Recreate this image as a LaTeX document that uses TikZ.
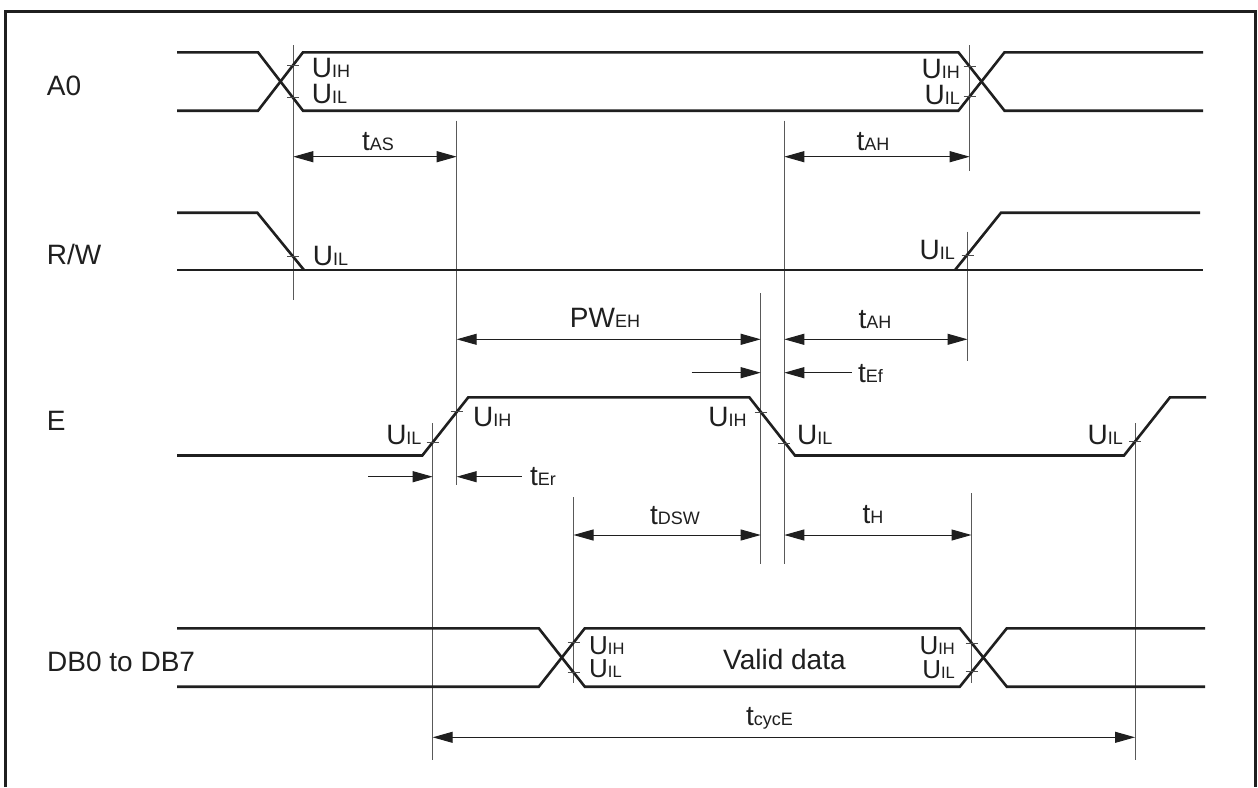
\documentclass[tikz,border=0pt]{standalone}
\usepackage{fontspec}
\setmainfont{Liberation Sans}
\usetikzlibrary{arrows.meta}
\newcommand\subt[1]{{\fontsize{18}{18}\selectfont #1}}
\newcommand\subs[1]{{\fontsize{16.5}{16.5}\selectfont #1}}
\tikzset{
  sig/.style={line width=2.6pt, draw=black!88, line join=miter},
  guide/.style={line width=1pt, draw=black!65},
  tickm/.style={line width=1pt, draw=black!70},
  dimarr/.style={line width=1pt, draw=black!88, {Triangle[length=20pt,width=11pt]}-{Triangle[length=20pt,width=11pt]}},
  onearr/.style={line width=1pt, draw=black!88, -{Triangle[length=20pt,width=11pt]}},
  lbl/.style={inner sep=0pt, text=black!88, font=\fontsize{28}{30}\selectfont},
  lbls/.style={inner sep=0pt, text=black!88, font=\fontsize{26}{28}\selectfont},
  frm/.style={line width=3pt, draw=black!88},
}
\begin{document}
\begin{tikzpicture}[x=1pt,y=-1pt]
\useasboundingbox (0,0) rectangle (1258,787);
\fill[white] (0,0) rectangle (1258,787);
% frame
\draw[frm] (5.7,787) -- (5.7,11) -- (1255.6,11) -- (1255.6,787);

% ---- guide lines ----
\foreach \x/\a/\b in {293.3/45/300, 969.7/45/170.7, 967.5/231.7/361, 456.7/120.7/485,
  784.3/120.7/564, 760.7/293/564, 432.7/423/760, 1135/423/760, 573.5/497/683, 971.5/493/683}
  \draw[guide] (\x,\a) -- (\x,\b);

% ---- signals ----
% A0
\draw[sig] (177,52.3) -- (258,52.3) -- (303,110.7) -- (958.4,110.7) -- (1004.5,52.3) -- (1203,52.3);
\draw[sig] (177,110.7) -- (258,110.7) -- (303,52.3) -- (958.4,52.3) -- (1004.5,110.7) -- (1203,110.7);
% R/W
\draw[sig] (177,212.7) -- (257.3,212.7) -- (304,270);
\draw[sig] (177,270) -- (1203,270);
\draw[sig] (955,270) -- (1001,212.7) -- (1200,212.7);
% E
\draw[sig] (177,455.5) -- (422.3,455.5) -- (468.3,397.3) -- (749.3,397.3) -- (795,455.5) -- (1124,455.5) -- (1170,397.3) -- (1206,397.3);
% DB
\draw[sig] (177,628.3) -- (538.8,628.3) -- (584.8,686.7) -- (959.8,686.7) -- (1006.8,628.3) -- (1205,628.3);
\draw[sig] (177,686.7) -- (538.8,686.7) -- (584.8,628.3) -- (959.8,628.3) -- (1006.8,686.7) -- (1205,686.7);

% ---- ticks ----
\foreach \x/\y in {293.3/65.3, 293.3/97.7, 969.7/66.9, 969.7/96.1, 293.3/256.9, 967.5/255,
  432.7/442, 456.7/411.8, 760.7/412.4, 784.3/443, 1135/441.6,
  573.5/642.4, 573.5/672.6, 971.5/643.5, 971.5/671.5}
  \draw[tickm] (\x-6,\y) -- (\x+6,\y);

% ---- dimension arrows ----
\coordinate (tasL) at (293.3,156.7);  \coordinate (tasR) at (456.7,156.7);
\coordinate (tahL) at (784.3,156.7);  \coordinate (tahR) at (969.7,156.7);
\coordinate (pwL) at (456.7,339.3);   \coordinate (pwR) at (760.7,339.3);
\coordinate (tah2L) at (784.3,339.3); \coordinate (tah2R) at (967.5,339.3);
\coordinate (tefA) at (691.7,372.7);  \coordinate (tefB) at (760.7,372.7);
\coordinate (tefC) at (851.7,372.7);  \coordinate (tefD) at (784.3,372.7);
\coordinate (terA) at (368,476.7);    \coordinate (terB) at (432.7,476.7);
\coordinate (terC) at (521.7,476.7);  \coordinate (terD) at (456.7,476.7);
\coordinate (dswL) at (573.5,535);    \coordinate (dswR) at (760.7,535);
\coordinate (thL) at (784.3,535);     \coordinate (thR) at (971.5,535);
\coordinate (cycL) at (432.7,737.3);  \coordinate (cycR) at (1135,737.3);
\draw[dimarr] (tasL) -- (tasR);
\draw[dimarr] (tahL) -- (tahR);
\draw[dimarr] (pwL) -- (pwR);
\draw[dimarr] (tah2L) -- (tah2R);
\draw[onearr] (tefA) -- (tefB);
\draw[onearr] (tefC) -- (tefD);
\draw[onearr] (terA) -- (terB);
\draw[onearr] (terC) -- (terD);
\draw[dimarr] (dswL) -- (dswR);
\draw[dimarr] (thL) -- (thR);
\draw[dimarr] (cycL) -- (cycR);

% ---- signal names ----
\node[lbl, anchor=base west] (nA0) at (46.7,95.7) {A0};
\node[lbl, anchor=base west] (nRW) at (46.7,264) {R/W};
\node[lbl, anchor=base west] (nE) at (46.7,430.7) {E};
\node[lbl, anchor=base west] (nDB) at (47,671.7) {DB0 to DB7};

% ---- labels ----
\node[lbl, anchor=base west] (a1) at (311.7,77.5) {U\subt{IH}};
\node[lbl, anchor=base west] (a2) at (311.7,103.5) {U\subt{IL}};
\node[lbl, anchor=base east] (a3) at (960,78) {U\subt{IH}};
\node[lbl, anchor=base east] (a4) at (960,104) {U\subt{IL}};
\node[lbl, anchor=base] (tas) at (378,150) {t\subt{AS}};
\node[lbl, anchor=base] (tah) at (873,150) {t\subt{AH}};
\node[lbl, anchor=base west] (r1) at (312.7,265) {U\subt{IL}};
\node[lbl, anchor=base east] (r2) at (955,259) {U\subt{IL}};
\node[lbl, anchor=base] (pw) at (605,327) {PW\subt{EH}};
\node[lbl, anchor=base] (tah2) at (875,328) {t\subt{AH}};
\node[lbl, anchor=base west] (tef) at (858,382.7) {t\subt{Ef}};
\node[lbl, anchor=base east] (e1) at (421.7,444) {U\subt{IL}};
\node[lbl, anchor=base west] (e2) at (473,426.7) {U\subt{IH}};
\node[lbl, anchor=base east] (e3) at (746.7,426.7) {U\subt{IH}};
\node[lbl, anchor=base west] (e4) at (797,444) {U\subt{IL}};
\node[lbl, anchor=base east] (e5) at (1123,444) {U\subt{IL}};
\node[lbl, anchor=base west] (ter) at (530,485) {t\subt{Er}};
\node[lbl, anchor=base] (dsw) at (675,524) {t\subt{DSW}};
\node[lbl, anchor=base] (th) at (873,523) {t\subt{H}};
\node[lbls, anchor=base west] (d1) at (589,654) {U\subs{IH}};
\node[lbls, anchor=base west] (d2) at (589,677.5) {U\subs{IL}};
\node[lbls, anchor=base east] (d3) at (955,654) {U\subs{IH}};
\node[lbls, anchor=base east] (d4) at (955,678.5) {U\subs{IL}};
\node[lbl, anchor=base west] (vd) at (723,669) {Valid data};
\node[lbl, anchor=base west] (cyc) at (746,725) {t\subt{cycE}};
\end{tikzpicture}
\end{document}
